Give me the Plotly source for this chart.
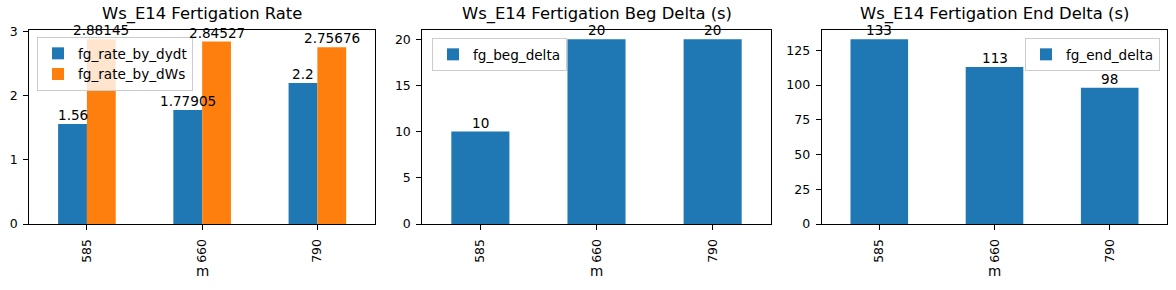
import plotly.graph_objects as go

categories = ["585", "660", "790"]
fg_rate_by_dydt = [1.56, 1.77905, 2.2]
fg_rate_by_dWs = [2.88145, 2.84527, 2.75676]
fg_beg_delta = [10, 20, 20]
fg_end_delta = [133, 113, 98]
titles = ["Ws_E14 Fertigation Rate", "Ws_E14 Fertigation Beg Delta (s)", "Ws_E14 Fertigation End Delta (s)"]
xlabel = "m"
yticks = [[0, 1, 2, 3], [0, 5, 10, 15, 20], [0, 25, 50, 75, 100, 125]]

W, H = 1176, 290
FONT = "DejaVu Sans"
BLUE = "#1f77b4"
ORANGE = "#ff7f0e"

xpos = list(range(len(categories)))
domains_px = [(29.3, 375.0), (422.3, 770.7), (821.7, 1167.3)]
ytop_px, ybot_px = 30, 224
ydom = [(H - ybot_px) / H, (H - ytop_px) / H]

fig = go.Figure()
annotations = []

def fmt(v):
    return "%g" % v

def add_bar(vals, name, color, width, offset, idx, legend):
    xa = "x" if idx == 1 else "x%d" % idx
    ya = "y" if idx == 1 else "y%d" % idx
    fig.add_trace(go.Bar(
        x=xpos, y=vals, name=name, width=width, offset=offset,
        marker=dict(color=color, line=dict(width=0)),
        xaxis=xa, yaxis=ya, legend=legend,
    ))
    for xv, v in zip(xpos, vals):
        annotations.append(dict(
            text=fmt(v), x=xv + offset + width / 2, y=v, xref=xa, yref=ya,
            xanchor="center", yanchor="bottom", yshift=0, showarrow=False,
            borderpad=0, font=dict(family=FONT, size=13.6, color="black"),
        ))

add_bar(fg_rate_by_dydt, "fg_rate_by_dydt", BLUE, 0.25, -0.25, 1, "legend")
add_bar(fg_rate_by_dWs, "fg_rate_by_dWs", ORANGE, 0.25, 0.0, 1, "legend")
add_bar(fg_beg_delta, "fg_beg_delta", BLUE, 0.5, -0.25, 2, "legend2")
add_bar(fg_end_delta, "fg_end_delta", BLUE, 0.5, -0.25, 3, "legend3")

maxes = [max(max(fg_rate_by_dydt), max(fg_rate_by_dWs)), max(fg_beg_delta), max(fg_end_delta)]

layout = dict(
    width=W, height=H, margin=dict(l=0, r=0, t=0, b=0),
    paper_bgcolor="white", plot_bgcolor="white",
    barmode="overlay", showlegend=True,
    font=dict(family=FONT, color="black"),
)

for i in range(3):
    k = "" if i == 0 else str(i + 1)
    x0, x1 = domains_px[i]
    layout["xaxis" + k] = dict(
        domain=[x0 / W, x1 / W], anchor="y" + k, range=[-0.5, 2.5],
        tickvals=xpos, ticktext=categories, tickangle=-90,
        showline=True, linecolor="black", linewidth=1, mirror=True,
        ticks="outside", ticklen=5, tickwidth=1, tickcolor="black",
        showgrid=False, zeroline=False, automargin=False,
        tickfont=dict(family=FONT, size=12.5, color="black"),
        ticklabelstandoff=4,
    )
    layout["yaxis" + k] = dict(
        domain=ydom, anchor="x" + k, range=[0, maxes[i] * 1.05],
        tickvals=yticks[i],
        showline=True, linecolor="black", linewidth=1, mirror=True,
        ticks="outside", ticklen=5, tickwidth=1, tickcolor="black",
        showgrid=False, zeroline=False, automargin=False,
        tickfont=dict(family=FONT, size=12.5, color="black"),
        ticklabelstandoff=3,
    )
    annotations.append(dict(
        text=titles[i], xref="paper", yref="paper",
        x=(x0 + x1) / 2 / W, y=(H - 14) / H, xanchor="center", yanchor="middle",
        showarrow=False, borderpad=0, font=dict(family=FONT, size=16.4, color="black"),
    ))
    annotations.append(dict(
        text=xlabel, xref="paper", yref="paper",
        x=(x0 + x1) / 2 / W, y=(H - 271) / H, xanchor="center", yanchor="middle",
        showarrow=False, font=dict(family=FONT, size=13.6, color="black"),
    ))

layout["annotations"] = annotations

leg_common = dict(bgcolor="rgba(255,255,255,0.8)", bordercolor="#cccccc", borderwidth=1,
                  font=dict(family=FONT, size=13.6, color="black"), yanchor="top",
                  tracegroupgap=0)
layout["legend"] = dict(x=37 / W, y=(H - 37) / H, xanchor="left", **leg_common)
layout["legend2"] = dict(x=432 / W, y=(H - 38) / H, xanchor="left", **leg_common)
layout["legend3"] = dict(x=1160 / W, y=(H - 38) / H, xanchor="right", **leg_common)

fig.update_layout(**layout)
fig.write_html("out.html")
